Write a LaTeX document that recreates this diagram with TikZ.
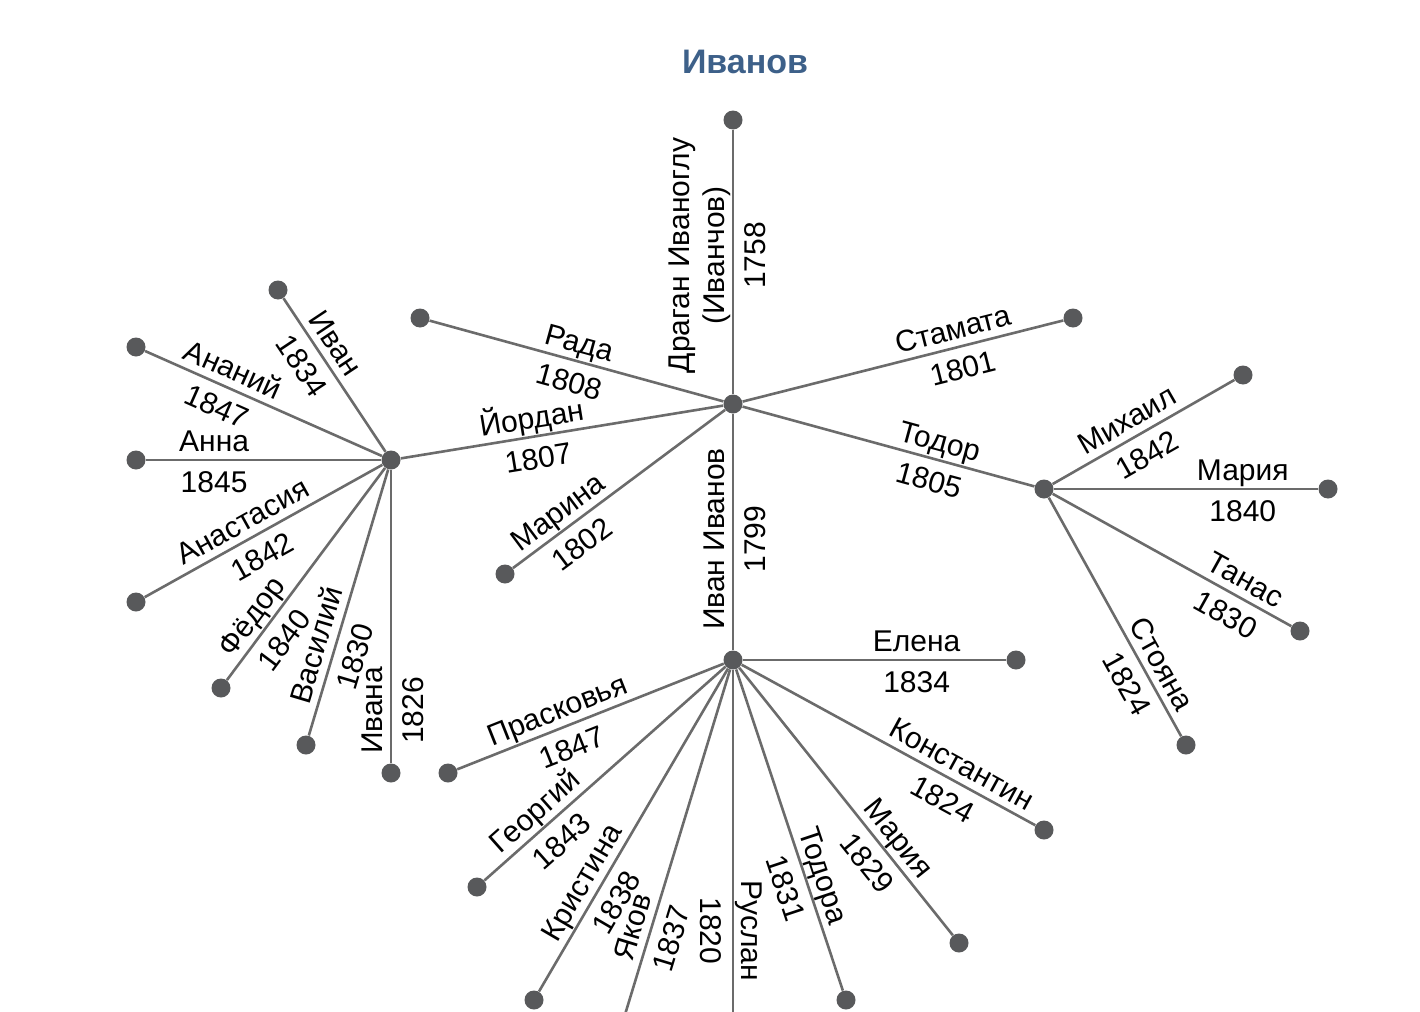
\documentclass[tikz,border=0pt]{standalone}
\usepackage{fontspec}
\setmainfont{Liberation Sans}

\definecolor{linegray}{HTML}{6B6B6B}
\definecolor{dotgray}{HTML}{58595B}
\definecolor{titleblue}{HTML}{3D6089}

\tikzset{
  link/.style={draw=linegray, line width=1.3pt},
  person/.style={circle, fill=dotgray, inner sep=0pt, minimum size=9.5pt},
  who/.style={sloped, above, inner sep=3.5pt, text depth=0pt, align=center,
    font=\fontsize{15}{17.5}\selectfont},
  born/.style={sloped, below=1.5pt, inner sep=3.5pt,
    font=\fontsize{15}{17.5}\selectfont},
}

% from, to, pos, id, name, year
\newcommand{\branch}[6]{%
  \draw[link] (#1) -- node[pos=#3, who] (#4-n) {#5} node[pos=#3, born] (#4-y) {#6} (#2);}

\begin{document}
\begin{tikzpicture}[x=0.5pt, y=-0.5pt]
  \useasboundingbox (0,0) rectangle (1420,1012);
  \clip (0,0) rectangle (1420,1012);

  \node[font=\bfseries\fontsize{17}{20}\selectfont, text=titleblue] (title) at (745,62) {Иванов};

  % first generation
  \node[person] (root) at (733,404) {};
  \node[person] (dragan) at (733,120) {};
  \node[person] (rada) at (420,318) {};
  \node[person] (stamata) at (1073,318) {};
  \node[person] (yordan) at (391,460) {};
  \node[person] (marina) at (505,574) {};
  \node[person] (todor) at (1044,489) {};
  \node[person] (ivan) at (733,660) {};

  % Yordan's children
  \node[person] (ivanY) at (278,290) {};
  \node[person] (ananiy) at (136,347) {};
  \node[person] (anna) at (136,460) {};
  \node[person] (anastasiya) at (136,602) {};
  \node[person] (fyodor) at (221,688) {};
  \node[person] (vasiliy) at (306,745) {};
  \node[person] (ivana) at (391,773) {};

  % Todor's children
  \node[person] (mikhail) at (1243,375) {};
  \node[person] (mariyaT) at (1328,489) {};
  \node[person] (tanas) at (1300,631) {};
  \node[person] (stoyana) at (1186,745) {};

  % Ivan's children
  \node[person] (elena) at (1016,660) {};
  \node[person] (konstantin) at (1044,830) {};
  \node[person] (mariyaI) at (959,943) {};
  \node[person] (todora) at (846,1000) {};
  \node[person] (ruslan) at (733,1050) {};
  \node[person] (yakov) at (613,1054) {};
  \node[person] (kristina) at (534,1000) {};
  \node[person] (georgiy) at (477,887) {};
  \node[person] (praskovya) at (448,773) {};

  \branch{root}{dragan}{0.525}{dr}{Драган Иваноглу\\(Иванчов)}{1758}
  \branch{root}{rada}{0.505}{ra}{Рада}{1808}
  \branch{root}{stamata}{0.67}{st}{Стамата}{1801}
  \branch{root}{yordan}{0.585}{yo}{Йордан}{1807}
  \branch{root}{marina}{0.737}{ma}{Марина}{1802}
  \branch{root}{todor}{0.66}{to}{Тодор}{1805}
  \branch{ivan}{root}{0.47}{iv}{Иван Иванов}{1799}

  \branch{yordan}{ivanY}{0.64}{iy}{Иван}{1834}
  \branch{yordan}{ananiy}{0.66}{an}{Ананий}{1847}
  \branch{yordan}{anna}{0.71}{ann}{Анна}{1845}
  \branch{yordan}{anastasiya}{0.55}{as}{Анастасия}{1842}
  \branch{yordan}{fyodor}{0.75}{fe}{Фёдор}{1840}
  \branch{yordan}{vasiliy}{0.68}{va}{Василий}{1830}
  \branch{ivana}{yordan}{0.18}{ia}{Ивана}{1826}

  \branch{todor}{mikhail}{0.46}{mi}{Михаил}{1842}
  \branch{todor}{mariyaT}{0.715}{mt}{Мария}{1840}
  \branch{todor}{tanas}{0.77}{ta}{Танас}{1830}
  \branch{todor}{stoyana}{0.735}{so}{Стояна}{1824}

  \branch{ivan}{elena}{0.66}{el}{Елена}{1834}
  \branch{ivan}{konstantin}{0.72}{ko}{Константин}{1824}
  \branch{ivan}{mariyaI}{0.68}{mi2}{Мария}{1829}
  \branch{ivan}{todora}{0.66}{tda}{Тодора}{1831}
  \branch{ivan}{ruslan}{0.705}{ru}{Руслан}{1820}
  \branch{ivan}{yakov}{0.70}{ya}{Яков}{1837}
  \branch{ivan}{kristina}{0.69}{kr}{Кристина}{1838}
  \branch{ivan}{georgiy}{0.74}{ge}{Георгий}{1843}
  \branch{ivan}{praskovya}{0.6}{pr}{Прасковья}{1847}
\end{tikzpicture}
\end{document}
